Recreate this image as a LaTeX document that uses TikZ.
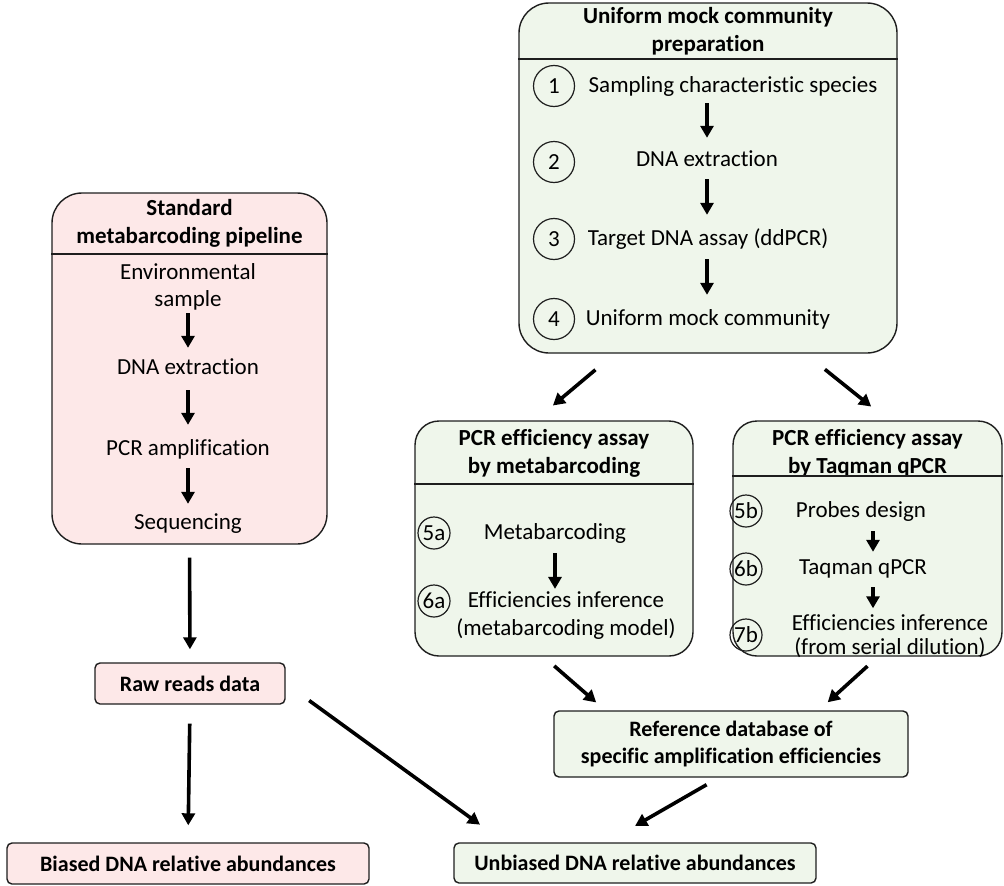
\documentclass[tikz,border=0pt]{standalone}
\usepackage{fontspec}
\setmainfont{Carlito}[Ligatures={CommonOff,ContextualOff}]
\usetikzlibrary{arrows.meta,calc}
\definecolor{pinkfill}{RGB}{253,232,232}
\definecolor{greenfill}{RGB}{239,246,235}
\definecolor{edge}{RGB}{30,30,30}
\tikzset{
    txt/.style={font=\fontsize{23}{27}\selectfont, inner sep=0pt, align=center},
    steptext/.style={txt, text height=14pt, text depth=2pt},
    heading/.style={txt, font=\fontsize{23}{28}\selectfont\bfseries},
    stepnum/.style={draw=edge, line width=1.2pt, circle, inner sep=0pt, minimum size=41pt, font=\fontsize{23}{27}\selectfont},
    smallnum/.style={stepnum, minimum size=32pt},
    bigbox/.style={draw=edge, line width=1.4pt, rounded corners=30pt},
    midbox/.style={bigbox, rounded corners=24pt},
    smallbox/.style={draw=edge, line width=1.4pt, rounded corners=5pt, inner sep=0pt, font=\fontsize{22}{27}\selectfont\bfseries, align=center},
    arr/.style={-{Triangle[length=12pt,width=13pt]}, line width=3.6pt},
    flow/.style={arr, shorten <=11pt, shorten >=15pt}
}

\begin{document}
\begin{tikzpicture}[x=1pt,y=-1pt]
    \useasboundingbox (0,0) rectangle (1004,886);

    % Uniform mock community
    \node[bigbox, fill=greenfill, minimum width=378, minimum height=350] (top) at (708,178) {};
    \node[heading] (toptitle) at (708,31) {Uniform mock community\\preparation};
    \draw[line width=1.4pt, draw=edge] (top.west |- 0,59) -- (top.east |- 0,59);
    \node[stepnum] (c1) at (554,86) {1};
    \node[stepnum] (c2) at (554,162) {2};
    \node[stepnum] (c3) at (554,239) {3};
    \node[stepnum] (c4) at (554,319) {4};
    \node[steptext] (s1) at (733,86) {Sampling characteristic species};
    \node[steptext] (s2) at (707,160) {DNA extraction};
    \node[steptext] (s3) at (708,239) {Target DNA assay (ddPCR)};
    \node[steptext] (s4) at (708,319) {Uniform mock community};
    \draw[flow, shorten <=9pt, shorten >=14pt] (s1.south -| s2) -- (s2.north);
    \draw[flow, shorten >=16pt] (s2.south) -- (s2.south |- s3.north);
    \draw[flow, shorten <=12pt, shorten >=16pt] (s3.south -| s2) -- (s2 |- s4.north);

    % Standard pipeline
    \node[bigbox, fill=pinkfill, minimum width=275, minimum height=351] (std) at (189.5,368.5) {};
    \node[heading] (stdtitle) at (189.5,223) {Standard\\metabarcoding pipeline};
    \draw[line width=1.4pt, draw=edge] (std.west |- 0,254) -- (std.east |- 0,254);
    \node[txt] (e1) at (188,286.5) {Environmental\\sample};
    \node[steptext] (e2) at (188,368) {DNA extraction};
    \node[steptext] (e3) at (188,449) {PCR amplification};
    \node[steptext] (e4) at (188,523) {Sequencing};
    \draw[flow, shorten <=3pt, shorten >=12pt] (e1.south) -- (e2.north);
    \draw[flow, shorten <=14pt, shorten >=16pt] (e2.south) -- (e3.north);
    \draw[flow, shorten <=11pt, shorten >=11pt] (e3.south) -- (e4.north);

    % PCR efficiency by metabarcoding
    \node[midbox, fill=greenfill, minimum width=278, minimum height=235] (meta) at (554,538.5) {};
    \node[heading] (metatitle) at (554,453) {PCR efficiency assay\\by metabarcoding};
    \draw[line width=1.4pt, draw=edge] (meta.west |- 0,484) -- (meta.east |- 0,484);
    \node[smallnum] (c5a) at (434,533) {5a};
    \node[smallnum] (c6a) at (434,601) {6a};
    \node[steptext] (m1) at (555,533) {Metabarcoding};
    \node[txt, font=\fontsize{23}{28}\selectfont] (m2) at (566,616) {Efficiencies inference\\(metabarcoding model)};
    \draw[flow, shorten <=12pt, shorten >=3pt] (m1.south) -- (m1.south |- m2.north);

    % PCR efficiency by Taqman qPCR
    \node[midbox, fill=greenfill, minimum width=269, minimum height=235] (taq) at (867.5,538.5) {};
    \node[heading] (taqtitle) at (867.5,453) {PCR efficiency assay\\by Taqman qPCR};
    \draw[line width=1.4pt, draw=edge] (taq.west |- 0,476) -- (taq.east |- 0,476);
    \node[smallnum] (c5b) at (746,511) {5b};
    \node[smallnum] (c6b) at (746,569) {6b};
    \node[smallnum] (c7b) at (746,635) {7b};
    \node[steptext] (q1) at (861,511) {Probes design};
    \node[steptext] (q2) at (863,568) {Taqman qPCR};
    \node[txt, font=\fontsize{23}{24}\selectfont] (q3) at (890,636) {Efficiencies inference\\(from serial dilution)};
    \draw[flow, shorten <=12pt, shorten >=8pt] (q1.south -| 873,0) -- (q2.north -| 873,0);
    \draw[flow, shorten <=11pt, shorten >=6pt] (q2.south -| 873,0) -- (q3.north -| 873,0);

    % result boxes
    \node[smallbox, fill=pinkfill, minimum width=190, minimum height=41] (raw) at (190,683.5) {Raw reads data};
    \node[smallbox, fill=pinkfill, minimum width=362, minimum height=41] (biased) at (188,863.5) {Biased DNA relative abundances};
    \node[smallbox, fill=greenfill, minimum width=362, minimum height=40] (unbiased) at (635,863) {Unbiased DNA relative abundances};
    \node[smallbox, fill=greenfill, minimum width=354, minimum height=66] (refdb) at (731,744) {Reference database of\\specific amplification efficiencies};

    % connectors between boxes
    \draw[arr, shorten <=13pt, shorten >=13pt] (std.south) -- (raw.north);
    \draw[arr, shorten <=19pt, shorten >=17pt] (raw.south) -- (biased.north);
    \draw[arr, shorten <=29pt, shorten >=30pt] (raw.east) -- (unbiased.171.3);
    \draw[arr, shorten <=14pt, shorten >=33pt] (refdb.250) -- (unbiased.144.5);
    \draw[arr, shorten <=25pt, shorten >=23pt] (top.242.3) -- (meta.99.2);
    \draw[arr, shorten <=25pt, shorten >=22pt] (top.299.5) -- (taq.80.1);
    \draw[arr, shorten <=14pt, shorten >=12pt] (meta.265.1) -- (refdb.165.1);
    \draw[arr, shorten <=14pt, shorten >=12pt] (taq.275.6) -- (refdb.21);
\end{tikzpicture}
\end{document}
